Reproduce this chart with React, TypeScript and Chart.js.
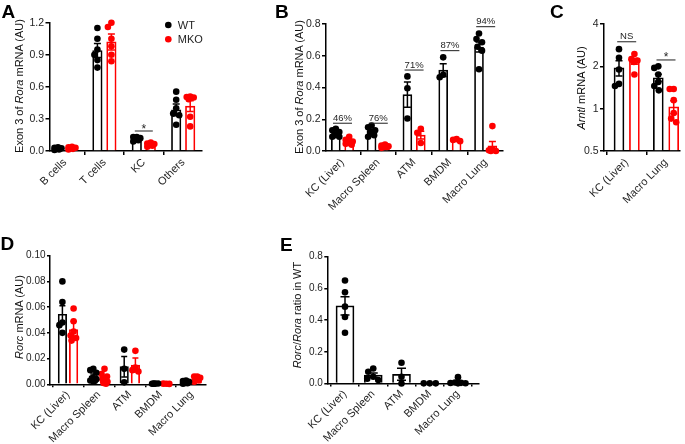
import React, { useEffect, useRef } from 'react';
import { Chart, registerables } from 'chart.js';

Chart.register(...registerables);

const FONT = '"Liberation Sans", Arial, Helvetica, sans-serif';
const TEXT = '#1e1e1e';
const BLACK = '#000000';
const RED = '#ff0000';

// ---------- Panel A ----------
const catsA = ['B cells', 'T cells', 'KC', 'Others'];
const yTicksA = [0, 0.3, 0.6, 0.9, 1.2];
const wtMeanA = [0.022, 0.94, 0.112, 0.385];
const wtSemA = [0.004, 0.065, 0.01, 0.055];
const mkoMeanA = [0.028, 1.02, 0.06, 0.42];
const mkoSemA = [0.004, 0.075, 0.008, 0.05];
const wtPtsA = [
  [0.035, 0.03, 0.025, 0.02, 0.015, 0.01],
  [1.15, 1.05, 0.95, 0.9, 0.85, 0.78],
  [0.13, 0.13, 0.12, 0.11, 0.1, 0.09],
  [0.555, 0.48, 0.4, 0.35, 0.335, 0.245],
];
const mkoPtsA = [
  [0.04, 0.035, 0.03, 0.025, 0.02, 0.015],
  [1.2, 1.16, 1.05, 0.98, 0.9, 0.84],
  [0.08, 0.07, 0.065, 0.06, 0.05, 0.04],
  [0.51, 0.505, 0.5, 0.485, 0.32, 0.23],
];

// ---------- Panel B ----------
const catsB = ['KC (Liver)', 'Macro Spleen', 'ATM', 'BMDM', 'Macro Lung'];
const yTicksB = [0, 0.2, 0.4, 0.6, 0.8];
const wtMeanB = [0.11, 0.125, 0.355, 0.51, 0.655];
const wtSemB = [0.01, 0.01, 0.08, 0.04, 0.032];
const mkoMeanB = [0.06, 0.03, 0.1, 0.068, 0.032];
const mkoSemB = [0.01, 0.004, 0.025, 0.004, 0.028];
const wtPtsB = [
  [0.14, 0.13, 0.12, 0.1, 0.09, 0.09],
  [0.16, 0.15, 0.13, 0.12, 0.1, 0.09],
  [0.47, 0.395, 0.205],
  [0.59, 0.48, 0.465],
  [0.74, 0.705, 0.685, 0.657, 0.632, 0.515],
];
const mkoPtsB = [
  [0.09, 0.07, 0.06, 0.05, 0.045, 0.04],
  [0.04, 0.035, 0.03, 0.025, 0.025, 0.02],
  [0.14, 0.115, 0.05],
  [0.075, 0.07, 0.062],
  [0.157, 0.01, 0.005, 0.0, 0.0],
];
const pctLabelsB = ['46%', '76%', '71%', '87%', '94%'];
const pctLevelsB = [0.175, 0.175, 0.51, 0.632, 0.783];

// ---------- Panel C ----------
const catsC = ['KC (Liver)', 'Macro Lung'];
const yTicksC = [0.5, 1, 2, 4];
const wtMeanC = [1.95, 1.66];
const wtSemC = [0.24, 0.1];
const mkoMeanC = [2.17, 1.03];
const mkoSemC = [0.1, 0.11];
const wtPtsC = [
  [2.65, 2.3, 1.9, 1.5, 1.45],
  [2.0, 1.95, 1.75, 1.55, 1.45, 1.35],
];
const mkoPtsC = [
  [2.45, 2.25, 2.2, 2.15, 1.75],
  [1.38, 1.38, 1.15, 0.93, 0.85, 0.8],
];
const sigLabelsC = ['NS', '*'];
const sigLevelsC = [2.99, 2.22];

// ---------- Panel D ----------
const catsD = ['KC (Liver)', 'Macro Spleen', 'ATM', 'BMDM', 'Macro Lung'];
const yTicksD = [0, 0.02, 0.04, 0.06, 0.08, 0.1];
const wtMeanD = [0.0545, 0.0065, 0.0137, 0.0005, 0.0016];
const wtSemD = [0.0065, 0.0015, 0.008, 0.0001, 0.0004];
const mkoMeanD = [0.0425, 0.0045, 0.015, 0.0004, 0.0043];
const mkoSemD = [0.0065, 0.0018, 0.0055, 0.0001, 0.0007];
const wtPtsD = [
  [0.08, 0.064, 0.048, 0.046, 0.04],
  [0.012, 0.011, 0.009, 0.005, 0.004, 0.003, 0.002],
  [0.027, 0.012, 0.0015],
  [0.0005, 0.0004, 0.0006, 0.0005],
  [0.003, 0.0025, 0.002, 0.001, 0.0008, 0.0005],
];
const mkoPtsD = [
  [0.059, 0.049, 0.041, 0.038, 0.036, 0.034],
  [0.012, 0.008, 0.006, 0.004, 0.002, 0.001, 0.0005],
  [0.026, 0.013, 0.011, 0.01],
  [0.0004, 0.0005, 0.0003],
  [0.006, 0.006, 0.005, 0.004, 0.003, 0.002],
];

// ---------- Panel E ----------
const catsE = ['KC (Liver)', 'Macro Spleen', 'ATM', 'BMDM', 'Macro Lung'];
const yTicksE = [0, 0.2, 0.4, 0.6, 0.8];
const meanE = [0.49, 0.053, 0.058, 0.001, 0.0093];
const semE = [0.058, 0.013, 0.038, 0, 0.006];
const ptsE = [
  [0.65, 0.575, 0.485, 0.42, 0.32],
  [0.095, 0.074, 0.043, 0.03, 0.022],
  [0.131, 0.043, 0.0],
  [0.001, 0.001, 0.001],
  [0.04, 0.006, 0.004, 0.003, 0.002, 0.001],
];

interface Group {
  label: string;
  color: string;
  mean: number[];
  sem: number[];
  pts: number[][];
  offPx: number;
}
interface Bracket {
  cat: number;
  value: number;
  label: string;
  half: number;
  dy: number;
  size: number;
}
interface Panel {
  left: number; top: number; width: number; height: number;
  L: number; R: number; T: number; B: number;
  c0: number; s: number;
  cats: string[];
  yMin: number; yMax: number; yTicks: number[];
  yFmt: (v: number) => string;
  log?: boolean;
  groups: Group[];
  barW: number; capW: number; spread: number;
  tickSize: number; tickLen: number;
  brackets?: Bracket[];
  legend?: { x: number; y: number; gap: number; items: { label: string; color: string }[] };
}

const panels: Panel[] = [
  {
    left: 0, top: 0, width: 230, height: 222,
    L: 49.5, R: 202, T: 22.7, B: 151, c0: 65, s: 39.4,
    cats: catsA, yMin: 0, yMax: 1.2, yTicks: yTicksA, yFmt: (v) => v.toFixed(1),
    groups: [
      { label: 'WT', color: BLACK, mean: wtMeanA, sem: wtSemA, pts: wtPtsA, offPx: -7 },
      { label: 'MKO', color: RED, mean: mkoMeanA, sem: mkoSemA, pts: mkoPtsA, offPx: 7 },
    ],
    barW: 9.5, capW: 7, spread: 3.5, tickSize: 10.5, tickLen: 4,
    brackets: [{ cat: 2, value: 0.187, label: '*', half: 9, dy: 1.5, size: 12 }],
    legend: { x: 168.3, y: 25, gap: 14.3, items: [{ label: 'WT', color: BLACK }, { label: 'MKO', color: RED }] },
  },
  {
    left: 230, top: 0, width: 280, height: 222,
    L: 96, R: 272.7, T: 24, B: 151, c0: 112.5, s: 35.8,
    cats: catsB, yMin: 0, yMax: 0.8, yTicks: yTicksB, yFmt: (v) => v.toFixed(1),
    groups: [
      { label: 'WT', color: BLACK, mean: wtMeanB, sem: wtSemB, pts: wtPtsB, offPx: -6.7 },
      { label: 'MKO', color: RED, mean: mkoMeanB, sem: mkoSemB, pts: mkoPtsB, offPx: 6.7 },
    ],
    barW: 9, capW: 7, spread: 3.5, tickSize: 10.5, tickLen: 4,
    brackets: pctLabelsB.map((l, i) => ({ cat: i, value: pctLevelsB[i], label: l, half: 9.5, dy: -2.5, size: 9.5 })),
  },
  {
    left: 510, top: 0, width: 175, height: 222,
    L: 94, R: 170, T: 24, B: 151, c0: 116.7, s: 39.3,
    cats: catsC, yMin: 0.5, yMax: 4, yTicks: yTicksC, yFmt: (v) => String(v), log: true,
    groups: [
      { label: 'WT', color: BLACK, mean: wtMeanC, sem: wtSemC, pts: wtPtsC, offPx: -7.7 },
      { label: 'MKO', color: RED, mean: mkoMeanC, sem: mkoSemC, pts: mkoPtsC, offPx: 7.7 },
    ],
    barW: 10, capW: 7, spread: 4, tickSize: 10.5, tickLen: 4,
    brackets: sigLabelsC.map((l, i) => ({ cat: i, value: sigLevelsC[i], label: l, half: 9.5, dy: l === '*' ? 1.5 : -2.5, size: l === '*' ? 12 : 9.5 })),
  },
  {
    left: 0, top: 222, width: 230, height: 222,
    L: 50, R: 205.7, T: 33.7, B: 162.3, c0: 68, s: 30.9,
    cats: catsD, yMin: 0, yMax: 0.1, yTicks: yTicksD, yFmt: (v) => v.toFixed(2),
    groups: [
      { label: 'WT', color: BLACK, mean: wtMeanD, sem: wtSemD, pts: wtPtsD, offPx: -5.6 },
      { label: 'MKO', color: RED, mean: mkoMeanD, sem: mkoSemD, pts: mkoPtsD, offPx: 5.6 },
    ],
    barW: 8.5, capW: 6, spread: 3, tickSize: 10, tickLen: 3,
  },
  {
    left: 230, top: 222, width: 280, height: 222,
    L: 97.3, R: 249, T: 34.7, B: 161.5, c0: 115, s: 28.25,
    cats: catsE, yMin: 0, yMax: 0.8, yTicks: yTicksE, yFmt: (v) => v.toFixed(1),
    groups: [{ label: 'WT', color: BLACK, mean: meanE, sem: semE, pts: ptsE, offPx: 0 }],
    barW: 18, capW: 9, spread: 7.5, tickSize: 10, tickLen: 3,
  },
];

// small beeswarm: spread points sideways only as far as `spread` px
function swarm(values: number[], toPx: (v: number) => number, minDist: number, spread: number): number[] {
  const placed: { x: number; y: number }[] = [];
  const cands: number[] = [0];
  for (let d = 0.5; d <= spread + 1e-6; d += 0.5) cands.push(-d, d);
  return values.map((v) => {
    const y = toPx(v);
    let best = 0;
    let bestD = -1;
    for (const c of cands) {
      const dmin = placed.length ? Math.min(...placed.map((p) => Math.hypot(p.x - c, p.y - y))) : Infinity;
      if (dmin >= minDist) {
        best = c;
        bestD = dmin;
        break;
      }
      if (dmin > bestD + 0.01) {
        bestD = dmin;
        best = c;
      }
    }
    placed.push({ x: best, y });
    return best;
  });
}

function buildChart(canvas: HTMLCanvasElement, p: Panel): Chart {
  const xMin = -(p.c0 - p.L) / p.s;
  const xMax = xMin + (p.R - p.L) / p.s;
  const ph = p.B - p.T;
  const toPx = (v: number) =>
    p.log
      ? (Math.log(v / p.yMin) / Math.log(p.yMax / p.yMin)) * ph
      : ((v - p.yMin) / (p.yMax - p.yMin)) * ph;

  const datasets: any[] = [];
  p.groups.forEach((g) => {
    datasets.push({
      type: 'bar',
      label: g.label,
      data: g.mean.map((m, i) => ({ x: i + g.offPx / p.s, y: m })),
      errors: g.sem,
      capW: p.capW,
      backgroundColor: '#ffffff',
      borderColor: g.color,
      borderWidth: 1.7,
      borderSkipped: 'start',
      barThickness: p.barW,
      grouped: false,
      base: p.log ? p.yMin : 0,
      order: 2,
    });
  });
  p.groups.forEach((g) => {
    const pts: { x: number; y: number }[] = [];
    g.pts.forEach((vals, i) => {
      const offs = swarm(vals, toPx, 6, p.spread);
      vals.forEach((v, k) => pts.push({ x: i + (g.offPx + offs[k]) / p.s, y: v }));
    });
    datasets.push({
      type: 'scatter',
      label: g.label + ' points',
      data: pts,
      backgroundColor: g.color,
      borderColor: g.color,
      borderWidth: 0,
      pointRadius: 3.3,
      pointHoverRadius: 3.3,
      clip: false,
      order: 0,
    });
  });

  const errorPlugin = {
    id: 'errorBars',
    afterDatasetDraw(chart: any, args: any) {
      const ds = chart.data.datasets[args.index];
      if (!ds.errors) return;
      const ys = chart.scales.y;
      const ctx = chart.ctx as CanvasRenderingContext2D;
      ctx.save();
      ctx.strokeStyle = ds.borderColor;
      ctx.lineWidth = 1.5;
      args.meta.data.forEach((bar: any, i: number) => {
        const m = ds.data[i].y;
        const e = ds.errors[i];
        if (!e) return;
        const x = bar.x;
        const lo = Math.max(m - e, p.yMin);
        const yTop = ys.getPixelForValue(m + e);
        const yBot = ys.getPixelForValue(lo);
        const c = ds.capW / 2;
        ctx.beginPath();
        ctx.moveTo(x, yTop);
        ctx.lineTo(x, yBot);
        ctx.moveTo(x - c, yTop);
        ctx.lineTo(x + c, yTop);
        if (m - e > p.yMin) {
          ctx.moveTo(x - c, yBot);
          ctx.lineTo(x + c, yBot);
        }
        ctx.stroke();
      });
      ctx.restore();
    },
  };

  const annotationPlugin = {
    id: 'annotations',
    afterDraw(chart: any) {
      const ctx = chart.ctx as CanvasRenderingContext2D;
      const xs = chart.scales.x;
      const ys = chart.scales.y;
      (p.brackets || []).forEach((b) => {
        const cx = xs.getPixelForValue(b.cat);
        const y = ys.getPixelForValue(b.value);
        ctx.save();
        ctx.strokeStyle = TEXT;
        ctx.lineWidth = 1;
        ctx.beginPath();
        ctx.moveTo(cx - b.half, y);
        ctx.lineTo(cx + b.half, y);
        ctx.stroke();
        ctx.fillStyle = TEXT;
        ctx.font = `${b.size}px ${FONT}`;
        ctx.textAlign = 'center';
        ctx.textBaseline = 'alphabetic';
        ctx.fillText(b.label, cx, y + b.dy);
        ctx.restore();
      });
      if (p.legend) {
        const lg = p.legend;
        lg.items.forEach((it, i) => {
          const y = lg.y + i * lg.gap;
          ctx.save();
          ctx.fillStyle = it.color;
          ctx.beginPath();
          ctx.arc(lg.x, y, 3.3, 0, Math.PI * 2);
          ctx.fill();
          ctx.fillStyle = TEXT;
          ctx.font = `11px ${FONT}`;
          ctx.textAlign = 'left';
          ctx.textBaseline = 'middle';
          ctx.fillText(it.label, lg.x + 9.5, y + 0.5);
          ctx.restore();
        });
      }
    },
  };

  const axisCommon = {
    grid: { drawOnChartArea: false, drawTicks: true, tickLength: p.tickLen, color: BLACK, lineWidth: 1.5 },
    border: { display: true, color: BLACK, width: 1.5 },
  };

  return new Chart(canvas, {
    type: 'bar',
    data: { datasets },
    options: {
      responsive: false,
      maintainAspectRatio: false,
      animation: false,
      events: [],
      layout: { padding: { left: 0, top: p.T, right: p.width - p.R, bottom: 0 } },
      plugins: { legend: { display: false }, tooltip: { enabled: false } },
      scales: {
        x: {
          type: 'linear',
          min: xMin,
          max: xMax,
          offset: false,
          afterBuildTicks: (sc: any) => {
            sc.ticks = p.cats.map((_, i) => ({ value: i }));
          },
          afterFit: (sc: any) => {
            sc.height = p.height - p.B;
          },
          ticks: {
            autoSkip: false,
            minRotation: 45,
            maxRotation: 45,
            padding: 1,
            color: TEXT,
            font: { size: 11, family: FONT },
            callback: (v: any) => p.cats[Math.round(Number(v))] ?? '',
          },
          ...axisCommon,
        },
        y: {
          type: p.log ? 'logarithmic' : 'linear',
          min: p.yMin,
          max: p.yMax,
          afterBuildTicks: (sc: any) => {
            sc.ticks = p.yTicks.map((v) => ({ value: v }));
          },
          afterFit: (sc: any) => {
            sc.width = p.L;
          },
          ticks: {
            autoSkip: false,
            padding: 1.5,
            color: TEXT,
            font: { size: p.tickSize, family: FONT },
            callback: (v: any) => p.yFmt(Number(v)),
          },
          ...axisCommon,
        },
      },
    } as any,
    plugins: [errorPlugin, annotationPlugin],
  } as any);
}

function PanelChart({ p }: { p: Panel }) {
  const ref = useRef<HTMLCanvasElement | null>(null);
  useEffect(() => {
    if (!ref.current) return;
    const chart = buildChart(ref.current, p);
    return () => chart.destroy();
  }, [p]);
  return (
    <canvas
      ref={ref}
      width={p.width}
      height={p.height}
      style={{ position: 'absolute', left: p.left, top: p.top, width: p.width, height: p.height }}
    />
  );
}

const letters = [
  { t: 'A', x: 1.5, base: 18.3 },
  { t: 'B', x: 275, base: 18.2 },
  { t: 'C', x: 550, base: 18.2 },
  { t: 'D', x: 0.5, base: 250.5 },
  { t: 'E', x: 280, base: 251 },
];

const yTitles: { cx: number; cy: number; node: React.ReactNode }[] = [
  { cx: 19, cy: 86, node: <>Exon 3 of <i>Rora</i> mRNA (AU)</> },
  { cx: 299, cy: 87, node: <>Exon 3 of <i>Rora</i> mRNA (AU)</> },
  { cx: 581, cy: 88, node: <><i>Arntl</i> mRNA (AU)</> },
  { cx: 19, cy: 317, node: <><i>Rorc</i> mRNA (AU)</> },
  { cx: 297, cy: 315, node: <><i>Rorc</i>/<i>Rora</i> ratio in WT</> },
];

const TITLE_BOX_W = 200;
const TITLE_BOX_H = 12;

export default function App() {
  return (
    <div
      style={{
        position: 'absolute',
        left: 0,
        top: 0,
        width: 685,
        height: 444,
        background: '#ffffff',
        overflow: 'hidden',
        fontFamily: FONT,
        color: TEXT,
      }}
    >
      {panels.map((p, i) => (
        <PanelChart key={i} p={p} />
      ))}
      {letters.map((l) => (
        <div
          key={l.t}
          style={{
            position: 'absolute',
            left: l.x,
            top: l.base - 16.1,
            fontSize: 19,
            lineHeight: '19px',
            fontWeight: 'bold',
            color: '#000',
          }}
        >
          {l.t}
        </div>
      ))}
      {yTitles.map((t, i) => (
        <div
          key={i}
          style={{
            position: 'absolute',
            left: t.cx - TITLE_BOX_W / 2,
            top: t.cy - TITLE_BOX_H / 2,
            width: TITLE_BOX_W,
            height: TITLE_BOX_H,
            fontSize: 11,
            lineHeight: `${TITLE_BOX_H}px`,
            textAlign: 'center',
            whiteSpace: 'nowrap',
            color: '#111',
            transformOrigin: '50% 50%',
            transform: 'rotate(-90deg)',
          }}
        >
          {t.node}
        </div>
      ))}
    </div>
  );
}
